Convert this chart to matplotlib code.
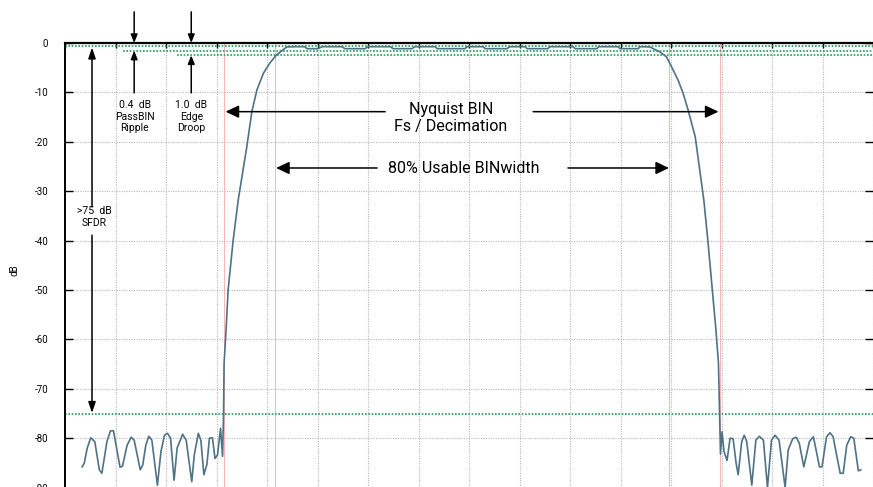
import numpy as np
import matplotlib
matplotlib.use("Agg")
import matplotlib.pyplot as plt

plt.rcParams['font.family'] = ['Roboto', 'DejaVu Sans']
plt.rcParams['axes.unicode_minus'] = False

# --- filter response (x in grid units, y in dB) ---
stop_left_f = [0.34, 0.38, 0.44, 0.51, 0.59, 0.68, 0.73, 0.83, 0.90, 0.96, 1.09, 1.14, 1.23, 1.31,
               1.37, 1.49, 1.54, 1.60, 1.66, 1.72, 1.83, 1.90, 1.97, 2.03, 2.09, 2.16, 2.22, 2.33,
               2.40, 2.51, 2.56, 2.64, 2.69, 2.75, 2.81, 2.86, 2.92, 2.97, 3.02, 3.08, 3.12]
stop_left_db = [-85.8, -85.1, -82.0, -79.9, -80.7, -86.4, -87.1, -80.7, -78.5, -78.5, -85.9, -85.6,
                -81.4, -79.8, -80.4, -86.4, -85.4, -81.4, -79.6, -80.4, -89.5, -82.7, -79.4, -79.0,
                -80.0, -88.5, -82.0, -79.2, -80.4, -88.8, -83.4, -79.0, -80.4, -87.4, -85.3, -80.0,
                -79.9, -84.1, -83.4, -78.0, -83.7]

rise_f = [3.14, 3.15, 3.19, 3.23, 3.33, 3.43, 3.60, 3.70, 3.80, 3.93, 4.06, 4.19, 4.39, 4.55]
rise_db = [-75, -64.8, -58, -50, -39.9, -31.8, -21, -13.9, -9.5, -6.1, -4.0, -2.4, -0.8, -0.75]

pass_f = [4.75, 4.79, 5.01, 5.09, 5.49, 5.54, 5.94, 6.00, 6.44, 6.50, 6.87, 6.93, 7.33, 7.37, 7.92,
          7.96, 8.28, 8.32, 8.75, 8.81, 9.11, 9.15, 9.56, 9.60, 10.06, 10.10, 10.53, 10.57, 10.95,
          10.99, 11.35, 11.39, 11.58]
pass_db = [-0.75, -1.15, -1.15, -0.75, -0.75, -1.15, -1.15, -0.75, -0.75, -1.15, -1.15, -0.75,
           -0.75, -1.15, -1.15, -0.75, -0.75, -1.15, -1.15, -0.75, -0.75, -1.15, -1.15, -0.75,
           -0.75, -1.15, -1.15, -0.75, -0.75, -1.15, -1.15, -0.75, -0.8]

fall_f = [11.78, 11.91, 12.01, 12.14, 12.24, 12.34, 12.48, 12.56, 12.65, 12.73, 12.81, 12.89, 12.94, 12.97]
fall_db = [-1.8, -2.8, -4.8, -7.5, -10.2, -13.6, -19.0, -25.0, -31.8, -40, -49, -58.1, -64.8, -78.3]

stop_right_f = [12.98, 13.01, 13.05, 13.11, 13.17, 13.23, 13.29, 13.33, 13.40, 13.45, 13.50, 13.60,
                13.68, 13.75, 13.83, 13.91, 13.99, 14.06, 14.14, 14.26, 14.32, 14.41, 14.48, 14.54,
                14.63, 14.74, 14.82, 14.94, 14.99, 15.08, 15.15, 15.21, 15.35, 15.41, 15.48, 15.56,
                15.62, 15.71, 15.76]
stop_right_db = [-83.2, -78.7, -82.7, -84.5, -80.0, -80.1, -85.1, -87.4, -80.7, -79.4, -80.7, -89.5,
                 -80.4, -79.6, -80.4, -90, -80.4, -79.4, -80.4, -90, -82.4, -80.1, -79.8, -81.0,
                 -85.8, -80.7, -79.7, -85.8, -85.8, -79.7, -78.9, -79.7, -87.1, -87.1, -81.4, -79.7,
                 -80.0, -86.6, -86.4]

freq = np.concatenate([stop_left_f, rise_f, pass_f, fall_f, stop_right_f])
resp = np.concatenate([stop_left_db, rise_db, pass_db, fall_db, stop_right_db])

yticks = [0, -10, -20, -30, -40, -50, -60, -70, -80, -90]
bin_edges = [3.15, 12.97]      # Nyquist BIN
usable_edges = [4.16, 11.96]   # 80% usable
spec_levels = [-0.6, -1.55, -2.5, -75]
spec_starts = [0, 1.15, 2.21, 0]

fig = plt.figure(figsize=(8.73, 4.87), dpi=100)
ax = fig.add_axes([65 / 873, -10.5 / 487, 808 / 873, 454.5 / 487])
ax.set_xlim(0, 16)
ax.set_ylim(-92, 0)

ax.set_xticks(np.arange(0, 17, 1))
ax.set_yticks(yticks)
ax.set_yticklabels([str(v) for v in yticks])
ax.grid(True, color='#b8b8b8', linestyle=(0, (1, 1.2)), linewidth=0.8)
ax.set_axisbelow(True)

for s in ['bottom', 'right']:
    ax.spines[s].set_visible(False)
ax.spines['top'].set_linewidth(1.6)
ax.spines['left'].set_linewidth(1.4)
ax.tick_params(axis='x', which='both', bottom=False, top=True, labelbottom=False,
               direction='in', length=3.8, width=1.0)
ax.tick_params(axis='y', left=True, right=True, direction='in', length=5.8, width=1.0,
               labelsize=7, pad=12)
ax.set_ylabel('dB', fontsize=7)
ax.yaxis.set_label_coords(-0.063, 0.5)
ax.yaxis.label.set_verticalalignment('center')

for x in bin_edges + usable_edges:
    ax.axvline(x, color='#f7b5b5', linewidth=0.7, zorder=1)

for lvl, x0 in zip(spec_levels, spec_starts):
    ax.hlines(lvl, x0, 16, colors='#1e9e55', linestyles=(0, (1, 1)), linewidth=1.2, zorder=2)

ax.plot(freq, resp, color='#4f7285', linewidth=1.2, zorder=3)


def arrow(x0, y0, x1, y1, hl, hw, lw=1.1):
    ax.annotate('', xy=(x1, y1), xytext=(x0, y0), annotation_clip=False,
                arrowprops=dict(arrowstyle=f'-|>,head_length={hl},head_width={hw}',
                                mutation_scale=10, color='black', lw=lw,
                                shrinkA=0, shrinkB=0), zorder=5)


# Nyquist BIN and 80% usable arrows
arrow(6.34, -13.9, bin_edges[0] + 0.03, -13.9, 0.8, 0.38)
arrow(9.27, -13.9, bin_edges[1] - 0.03, -13.9, 0.8, 0.38)
arrow(6.18, -25.3, usable_edges[0] + 0.02, -25.3, 0.8, 0.38)
arrow(9.96, -25.3, usable_edges[1], -25.3, 0.8, 0.38)
ax.text(7.64, -15.2, 'Nyquist BIN\nFs / Decimation', ha='center', va='center',
        fontsize=11.5, linespacing=1.15)
ax.text(7.89, -25.4, '80% Usable BINwidth', ha='center', va='center', fontsize=11.5)

# ripple / droop markers
arrow(1.37, 6.3, 1.37, 0, 0.5, 0.2)
arrow(1.37, -10.1, 1.37, -1.55, 0.5, 0.2)
arrow(2.50, 6.3, 2.50, 0, 0.5, 0.2)
arrow(2.50, -10.1, 2.50, -2.5, 0.5, 0.2)
ax.text(1.38, -14.9, '0.4  dB\nPassBIN\nRipple', ha='center', va='center', fontsize=7.5,
        linespacing=1.2)
ax.text(2.50, -14.9, '1.0  dB\nEdge\nDroop', ha='center', va='center', fontsize=7.5,
        linespacing=1.2)

# SFDR marker
arrow(0.535, -33.2, 0.535, -0.9, 0.65, 0.22)
arrow(0.535, -38.9, 0.535, -74.9, 0.65, 0.22)
ax.text(0.58, -35.2, '>75  dB\nSFDR', ha='center', va='center', fontsize=7.5, linespacing=1.2)

fig.savefig('out.png', dpi=100)
